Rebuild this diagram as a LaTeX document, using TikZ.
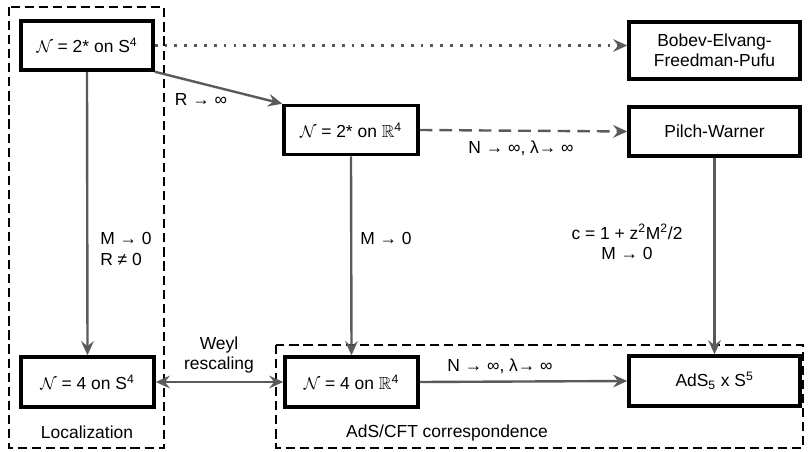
\documentclass[tikz,border=0pt]{standalone}
\usepackage{amssymb}
\usepackage{fontspec}
\setmainfont{Liberation Sans}
\usetikzlibrary{arrows.meta}

\definecolor{arrowgray}{RGB}{90,90,90}

\tikzset{
  flowtip/.tip={Stealth[length=10pt, width=9pt, inset=3.5pt]},
  box/.style={draw, black, line width=2.5pt, minimum height=1.225cm, align=center, inner sep=2pt},
  flow/.style={draw, arrowgray, line width=1.7pt, -{flowtip}},
  lbl/.style={align=center, inner sep=0pt},
  region/.style={draw, black, line width=2.1pt, dash pattern=on 6.5pt off 3.5pt}
}

\begin{document}
\begin{tikzpicture}[x=0.025cm, y=-0.025cm, font=\fontsize{12.4pt}{14.5pt}\selectfont]

  \useasboundingbox (0,0) rectangle (808,452);

  % regions
  \draw[region] (9,7) rectangle (164,448);
  \draw[region] (276,345) rectangle (803,448);
  \node[lbl] (loc) at (87,432) {Localization};
  \node[lbl] (adscft) at (447,433) {AdS/CFT correspondence};

  % theories
  \node[box, minimum width=3.3cm] (ntwoS) at (87,45.5) {$\mathcal{N}$ = 2* on S\textsuperscript{4}};
  \node[box, minimum width=3.35cm] (ntwoR) at (351,130) {$\mathcal{N}$ = 2* on $\mathbb{R}$\textsuperscript{4}};
  \node[box, minimum width=4.275cm, minimum height=1.425cm] (befp) at (714.5,50.5) {Bobev-Elvang-\\Freedman-Pufu};
  \node[box, minimum width=4.275cm] (pw) at (714.5,131.5) {Pilch-Warner};
  \node[box, minimum width=3.325cm, minimum height=1.25cm] (nfourS) at (87.5,382) {$\mathcal{N}$ = 4 on S\textsuperscript{4}};
  \node[box, minimum width=3.325cm, minimum height=1.25cm] (nfourR) at (351.5,382) {$\mathcal{N}$ = 4 on $\mathbb{R}$\textsuperscript{4}};
  \node[box, minimum width=4.275cm, minimum height=1.25cm] (ads) at (714.5,381) {AdS\textsubscript{5} x S\textsuperscript{5}};

  % limits
  \draw[flow, dash pattern=on 2pt off 5pt] (ntwoS.east) -- (ntwoS.east -| befp.west);
  \draw[flow] (ntwoS.south east) -- (ntwoR.north west);
  \draw[flow, dash pattern=on 9pt off 5pt] (ntwoR.east) -- (pw.west);
  \draw[flow] (ntwoS.south) -- (nfourS.north);
  \draw[flow] (ntwoR.south) -- (nfourR.north);
  \draw[flow] (pw.south) -- (ads.north);
  \draw[flow, flowtip-flowtip] (nfourS.east) -- (nfourR.west);
  \draw[flow] (nfourR.east) -- (ads.west);

  % name limits
  \node[lbl] (rinf) at (201,100) {R → ∞};
  \node[lbl] (nlamtop) at (521,148) {N → ∞, λ→ ∞};
  \node[lbl, align=left, anchor=west] (mzeroS) at (100,249) {M → 0\\R ≠ 0};
  \node[lbl] (mzeroR) at (386,238) {M → 0};
  \node[lbl] (cflow) at (627,242) {c = 1 + z\textsuperscript{2}M\textsuperscript{2}/2\\M → 0};
  \node[lbl] (weyl) at (219,355) {Weyl\\rescaling};
  \node[lbl] (nlambot) at (500,366) {N → ∞, λ→ ∞};

\end{tikzpicture}
\end{document}
